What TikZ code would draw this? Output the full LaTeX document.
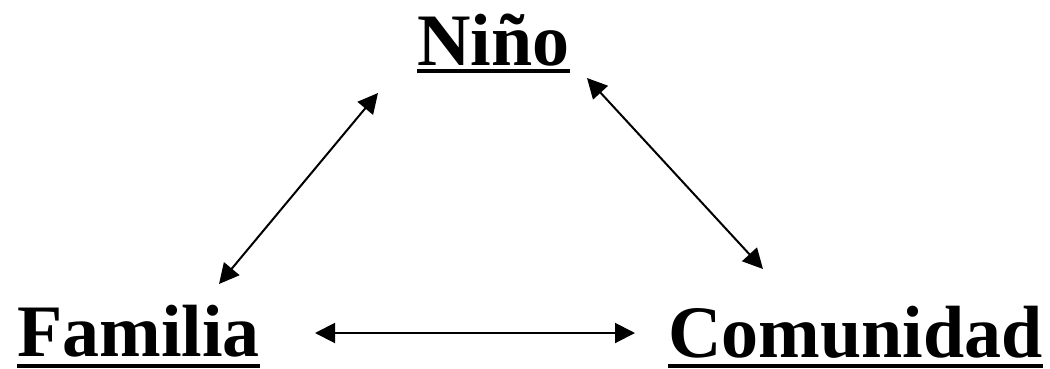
\documentclass[tikz,border=0pt]{standalone}
\usepackage{fontspec}
\setmainfont{Liberation Serif}
\usetikzlibrary{arrows.meta}
\begin{document}
\begin{tikzpicture}[x=1pt,y=-1pt,
  label/.style={anchor=base west,inner sep=0pt,font=\fontsize{74}{80}\selectfont\bfseries},
  uline/.style={line width=4pt},
  link/.style={line width=2pt,{Triangle[length=20pt,width=20pt]}-{Triangle[length=20pt,width=20pt]}}]
  \useasboundingbox (0,0) rectangle (1050,368);
  % the three terms
  \node[label] (nino) at (417,65) {Niño};
  \node[label] (fam) at (17,356) {Familia};
  \node[label] (com) at (668,357) {Comunidad};
  % underlines
  \draw[uline] ([yshift=-6pt]nino.base west) -- ([yshift=-6pt]nino.base east);
  \draw[uline] ([yshift=-10pt]fam.base west) -- ([yshift=-10pt]fam.base east);
  \draw[uline] ([yshift=-9pt]com.base west) -- ([yshift=-9pt]com.base east);
  % arrow ends
  \coordinate (nf) at (378,93);
  \coordinate (fn) at (219,284);
  \coordinate (nc) at (587,78);
  \coordinate (cn) at (763,269);
  \coordinate (fc) at (315,333);
  \coordinate (cf) at (635,333);
  % two-way links
  \draw[link] (fn) -- (nf);
  \draw[link] (nc) -- (cn);
  \draw[link] (fc) -- (cf);
\end{tikzpicture}
\end{document}
